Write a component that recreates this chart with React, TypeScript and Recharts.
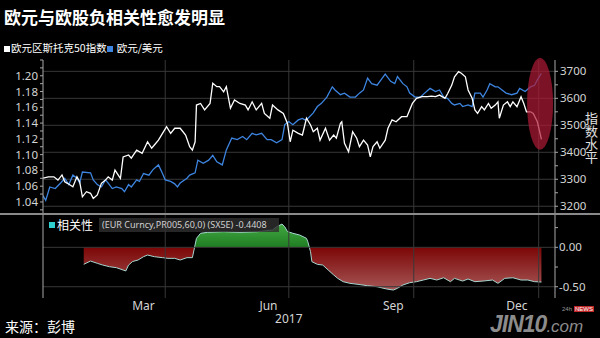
import React from 'react'
import { LineChart, Line, AreaChart, Area, XAxis, YAxis, ReferenceLine, ReferenceDot } from 'recharts'

// days counted from 2017-01-01
const sxDays = [0, 4, 8, 11, 14, 16, 18, 22, 25, 27, 29, 32, 35, 37, 40, 43, 46, 48, 51, 53, 57, 59, 63, 65, 69, 73, 77, 80, 82, 85, 88, 91, 94, 97, 101, 105, 108, 110, 112, 113, 116, 119, 123, 125, 128, 130, 133, 135, 138, 141, 145, 149, 151, 154, 157, 161, 163, 167, 169, 173, 177, 180, 182, 184, 188, 191, 194, 197, 199, 202, 204, 208, 211, 214, 216, 219, 220, 222, 225, 228, 231, 233, 236, 239, 241, 243, 246, 248, 252, 254, 257, 260, 264, 268, 270, 272, 275, 279, 283, 286, 289, 292, 296, 298, 301, 303, 306, 308, 311, 313, 316, 318, 320, 323, 325, 328, 330, 333, 335, 336, 339, 342, 344, 346, 349, 352, 354, 356, 359, 361, 364, 366, 367]
const sxValues = [3304, 3309, 3309, 3297, 3316, 3291, 3285, 3272, 3309, 3291, 3235, 3254, 3248, 3229, 3242, 3285, 3297, 3309, 3297, 3334, 3303, 3383, 3390, 3378, 3408, 3396, 3439, 3415, 3427, 3445, 3470, 3495, 3470, 3489, 3489, 3464, 3421, 3408, 3439, 3575, 3581, 3557, 3581, 3656, 3643, 3643, 3624, 3643, 3563, 3594, 3581, 3575, 3557, 3587, 3557, 3581, 3544, 3526, 3575, 3557, 3544, 3507, 3439, 3482, 3470, 3464, 3526, 3501, 3476, 3489, 3445, 3489, 3445, 3464, 3452, 3507, 3513, 3433, 3402, 3476, 3452, 3421, 3445, 3427, 3383, 3421, 3439, 3415, 3445, 3489, 3520, 3513, 3532, 3532, 3557, 3581, 3600, 3606, 3606, 3608, 3606, 3612, 3600, 3618, 3649, 3680, 3699, 3693, 3680, 3631, 3600, 3557, 3544, 3569, 3557, 3581, 3563, 3575, 3587, 3526, 3575, 3587, 3569, 3587, 3569, 3606, 3581, 3550, 3550, 3544, 3513, 3470, 3448]

const eurDays = [0, 2, 5, 9, 13, 16, 19, 22, 25, 27, 29, 35, 37, 40, 43, 46, 48, 51, 54, 58, 60, 63, 65, 69, 71, 74, 78, 81, 85, 88, 90, 94, 97, 99, 101, 106, 108, 112, 114, 118, 122, 125, 128, 132, 135, 139, 143, 147, 150, 154, 157, 161, 165, 168, 172, 176, 178, 181, 184, 188, 191, 193, 195, 199, 202, 205, 209, 213, 215, 219, 222, 226, 230, 233, 236, 239, 242, 246, 249, 252, 256, 259, 261, 265, 268, 270, 274, 278, 281, 285, 289, 292, 295, 298, 301, 303, 307, 309, 313, 316, 318, 322, 324, 327, 329, 333, 335, 338, 341, 345, 349, 351, 355, 359, 362, 364, 367]
const eurValues = [1.048, 1.042, 1.059, 1.057, 1.064, 1.07, 1.062, 1.074, 1.07, 1.064, 1.078, 1.077, 1.068, 1.062, 1.059, 1.068, 1.064, 1.057, 1.059, 1.057, 1.053, 1.062, 1.059, 1.068, 1.066, 1.076, 1.074, 1.081, 1.087, 1.076, 1.068, 1.066, 1.063, 1.059, 1.064, 1.07, 1.074, 1.077, 1.093, 1.089, 1.093, 1.099, 1.091, 1.087, 1.106, 1.121, 1.119, 1.123, 1.119, 1.127, 1.125, 1.127, 1.119, 1.119, 1.115, 1.119, 1.138, 1.142, 1.138, 1.144, 1.146, 1.144, 1.146, 1.153, 1.161, 1.165, 1.173, 1.186, 1.182, 1.176, 1.178, 1.173, 1.173, 1.178, 1.182, 1.197, 1.19, 1.188, 1.195, 1.202, 1.193, 1.19, 1.199, 1.19, 1.186, 1.178, 1.173, 1.173, 1.178, 1.184, 1.18, 1.182, 1.173, 1.171, 1.165, 1.163, 1.165, 1.161, 1.163, 1.161, 1.178, 1.178, 1.173, 1.182, 1.19, 1.186, 1.186, 1.182, 1.178, 1.176, 1.178, 1.184, 1.18, 1.186, 1.188, 1.195, 1.203]

const corrDays = [30, 35, 40, 44, 49, 54, 59, 61, 63, 66, 70, 74, 77, 82, 88, 92, 97, 101, 106, 110, 113, 116, 121, 133, 145, 158, 169, 172, 176, 178, 180, 184, 189, 194, 195, 197, 198, 202, 206, 210, 214, 217, 221, 226, 232, 239, 246, 253, 258, 261, 265, 270, 275, 280, 285, 290, 295, 300, 303, 309, 313, 318, 324, 331, 335, 340, 346, 352, 357, 362, 367]
const corrValues = [-0.216, -0.174, -0.203, -0.225, -0.246, -0.258, -0.288, -0.3, -0.225, -0.18, -0.161, -0.119, -0.098, -0.119, -0.131, -0.14, -0.14, -0.161, -0.131, -0.131, 0.114, 0.178, 0.19, 0.198, 0.19, 0.198, 0.22, 0.26, 0.296, 0.26, 0.2, 0.178, 0.156, 0.114, 0.071, -0.056, -0.182, -0.216, -0.225, -0.288, -0.35, -0.394, -0.436, -0.457, -0.47, -0.487, -0.5, -0.529, -0.542, -0.52, -0.478, -0.449, -0.436, -0.415, -0.394, -0.415, -0.386, -0.436, -0.394, -0.428, -0.402, -0.436, -0.428, -0.415, -0.457, -0.394, -0.386, -0.415, -0.415, -0.436, -0.4408]

const monthStarts = [0, 31, 59, 90, 120, 151, 181, 212, 243, 273, 304, 334, 365]
const quarterStarts = [90, 181, 273, 365]
const monthLabelDays = [74, 166, 258, 349]
const monthLabels = ['Mar', 'Jun', 'Sep', 'Dec']
const yearDay = 181
const yearLabel = '2017'

const eurTicks = [1.03, 1.04, 1.05, 1.06, 1.07, 1.08, 1.09, 1.1, 1.11, 1.12, 1.13, 1.14, 1.15, 1.16, 1.17, 1.18, 1.19, 1.2, 1.21, 1.22]
const sxTicks = [3200, 3250, 3300, 3350, 3400, 3450, 3500, 3550, 3600, 3650, 3700]
const sxGridLevels = [3200, 3300, 3400, 3500, 3600, 3700]
const corrTicks = [-0.5, -0.25, 0, 0.25]
const corrGridLevels = [-0.5, 0]

const highlightDay = 366
const highlightLevel = 3580

const dayDomain = [0, 377]
const eurDomain = [1.026, 1.22]
const sxDomain = [3175, 3742]
const corrDomain = [-0.643, 0.41]

const sxData = sxDays.map((d, i) => ({ day: d, value: sxValues[i] }))
const eurData = eurDays.map((d, i) => ({ day: d, value: eurValues[i] }))
const corrData = corrDays.map((d, i) => ({ day: d, value: corrValues[i] }))

const corrMax = Math.max(...corrValues)
const corrMin = Math.min(...corrValues)
const zeroOffset = corrMax / (corrMax - corrMin)

const FONT = "'Noto Sans', 'Noto Sans CJK SC', sans-serif"
const CJK = "'Noto Sans CJK SC', sans-serif"
const tickStyle = { fill: '#d4d4d4', fontSize: 11.5, fontFamily: FONT }
const axisStroke = '#a8a8a8'
const gridStroke = '#383838'

function MonthLabel(props: any) {
  const { x, y, payload } = props
  const i = monthLabelDays.indexOf(payload.value)
  if (i >= 0) {
    return <text x={x} y={y} dy={12} textAnchor="middle" fill="#d4d4d4" fontSize={12} fontFamily={FONT}>{monthLabels[i]}</text>
  }
  if (payload.value === yearDay) {
    return <text x={x} y={y} dy={25} textAnchor="middle" fill="#d4d4d4" fontSize={12} fontFamily={FONT}>{yearLabel}</text>
  }
  return <g />
}

function Highlight(props: any) {
  const { cx, cy } = props
  return <ellipse cx={cx} cy={cy} rx={13} ry={46} fill="#b01a34" fillOpacity={0.7} />
}

export default function App() {
  return (
    <div style={{ position: 'absolute', left: 0, top: 0, width: 600, height: 338, background: '#000', overflow: 'hidden', fontFamily: FONT }}>
      <div style={{ position: 'absolute', left: 4, top: 5, fontSize: 17, lineHeight: '24px', fontWeight: 'bold', color: '#fff', fontFamily: CJK }}>
        欧元与欧股负相关性愈发明显
      </div>
      <div style={{ position: 'absolute', left: 4, top: 41, fontSize: 10.5, lineHeight: '14px', color: '#fff', whiteSpace: 'nowrap', fontFamily: CJK }}>
        <span style={{ display: 'inline-block', width: 6, height: 6, background: '#fff', marginRight: 1 }} />
        欧元区斯托克50指数
        <span style={{ display: 'inline-block', width: 6, height: 6, background: '#3d85e0', marginRight: 4 }} />
        欧元/美元
      </div>

      <div style={{ position: 'absolute', left: 0, top: 0 }}>
        <LineChart width={600} height={215} margin={{ top: 60, right: 0, bottom: 2, left: 0 }}>
          <XAxis type="number" dataKey="day" domain={dayDomain} allowDataOverflow hide />
          <YAxis yAxisId="eur" orientation="left" width={43} type="number" domain={eurDomain} allowDataOverflow
            ticks={eurTicks} interval={0} tick={tickStyle} tickSize={3} tickMargin={2}
            tickFormatter={(v: number) => (Math.round(v * 100) % 2 === 0 && v < 1.21 ? v.toFixed(2) : '')}
            axisLine={{ stroke: axisStroke }} tickLine={{ stroke: axisStroke }} />
          <YAxis yAxisId="sx" orientation="right" width={45} type="number" domain={sxDomain} allowDataOverflow
            ticks={sxTicks} interval={0} tick={tickStyle} tickSize={3} tickMargin={2}
            tickFormatter={(v: number) => (v % 100 === 0 ? String(v) : '')}
            axisLine={{ stroke: axisStroke }} tickLine={{ stroke: axisStroke }} />
          {sxGridLevels.map((v) => (
            <ReferenceLine key={'h' + v} yAxisId="sx" y={v} stroke={gridStroke} />
          ))}
          {quarterStarts.map((d) => (
            <ReferenceLine key={'v' + d} yAxisId="sx" x={d} stroke={gridStroke} />
          ))}
          <Line data={eurData} dataKey="value" yAxisId="eur" type="linear" stroke="#3d85e0" strokeWidth={1.3} dot={false} isAnimationActive={false} />
          <Line data={sxData} dataKey="value" yAxisId="sx" type="linear" stroke="#ffffff" strokeWidth={1.3} dot={false} isAnimationActive={false} />
          <ReferenceDot yAxisId="sx" x={highlightDay} y={highlightLevel} shape={Highlight} zIndex={1000} />
        </LineChart>
      </div>

      <div style={{ position: 'absolute', left: 584, top: 112, writingMode: 'vertical-rl', textOrientation: 'upright', fontSize: 13, lineHeight: '14px', color: '#e0e0e0', fontFamily: CJK }}>
        指数水平
      </div>

      <div style={{ position: 'absolute', left: 0, top: 213, width: 600, height: 2, background: '#8a8a8a' }} />

      <div style={{ position: 'absolute', left: 0, top: 215 }}>
        <AreaChart width={600} height={123} data={corrData} margin={{ top: 0, right: 0, bottom: 0, left: 0 }}>
          <defs>
            <linearGradient id="corrFill" x1="0" y1="0" x2="0" y2="1">
              <stop offset={0} stopColor="#43a843" />
              <stop offset={zeroOffset} stopColor="#1f7d22" />
              <stop offset={zeroOffset} stopColor="#7c0606" />
              <stop offset={1} stopColor="#a65656" />
            </linearGradient>
          </defs>
          <XAxis xAxisId="m" type="number" dataKey="day" domain={dayDomain} allowDataOverflow
            ticks={monthStarts} interval={0} tick={false} tickSize={3} height={0}
            axisLine={{ stroke: axisStroke }} tickLine={{ stroke: axisStroke }} />
          <XAxis xAxisId="lbl" type="number" dataKey="day" domain={dayDomain} allowDataOverflow
            ticks={[...monthLabelDays, yearDay]} interval={0} tick={MonthLabel} tickSize={0} tickMargin={0}
            height={40} axisLine={false} tickLine={false} />
          <YAxis yAxisId="l" orientation="left" width={43} type="number" domain={corrDomain} allowDataOverflow
            tick={false} tickLine={false} axisLine={{ stroke: axisStroke }} />
          <YAxis yAxisId="r" orientation="right" width={45} type="number" domain={corrDomain} allowDataOverflow
            ticks={corrTicks} interval={0} tick={tickStyle} tickSize={3} tickMargin={1}
            tickFormatter={(v: number) => (v === 0 || v === -0.5 ? v.toFixed(2) : '')}
            axisLine={{ stroke: axisStroke }} tickLine={{ stroke: axisStroke }} />
          {corrGridLevels.map((v) => (
            <ReferenceLine key={'ch' + v} xAxisId="m" yAxisId="r" y={v} stroke={gridStroke} />
          ))}
          {quarterStarts.map((d) => (
            <ReferenceLine key={'cv' + d} xAxisId="m" yAxisId="r" x={d} stroke={gridStroke} />
          ))}
          <Area xAxisId="m" yAxisId="r" dataKey="value" type="linear" baseValue={0}
            stroke="#a6d6cf" strokeWidth={1} fill="url(#corrFill)" fillOpacity={1} isAnimationActive={false} />
        </AreaChart>
      </div>

      <div style={{ position: 'absolute', left: 49, top: 222, width: 6, height: 6, background: '#2ed0d0' }} />
      <div style={{ position: 'absolute', left: 57, top: 217, fontSize: 12, lineHeight: '16px', color: '#fff', fontFamily: CJK }}>
        相关性
      </div>
      <div style={{ position: 'absolute', left: 99, top: 218, width: 180, height: 14, background: 'rgba(48,48,48,0.8)', fontSize: 9, lineHeight: '14px', color: '#d0d0d0', paddingLeft: 3, whiteSpace: 'nowrap', boxSizing: 'border-box' }}>
        (EUR Curncy,PR005,60,0) (SX5E) -0.4408
      </div>

      <div style={{ position: 'absolute', left: 5, top: 317, fontSize: 14, lineHeight: '18px', color: '#fff', fontFamily: CJK }}>
        来源：彭博
      </div>

      <div style={{ position: 'absolute', left: 490, top: 313, lineHeight: '22px', whiteSpace: 'nowrap', color: '#8c8c8c', fontStyle: 'italic', fontFamily: "'Liberation Sans', sans-serif" }}>
        <span style={{ fontSize: 23, fontWeight: 'bold', letterSpacing: -1 }}>JIN10</span>
        <span style={{ fontSize: 17 }}>.com</span>
      </div>
      <div style={{ position: 'absolute', left: 562, top: 306, fontSize: 6, lineHeight: '7px', color: '#999', whiteSpace: 'nowrap', fontFamily: "'Liberation Sans', sans-serif" }}>
        <span style={{ marginRight: 2 }}>24h</span>
        <span style={{ background: '#c0282a', color: '#fff', padding: '0 1px' }}>NEWS</span>
      </div>
    </div>
  )
}
